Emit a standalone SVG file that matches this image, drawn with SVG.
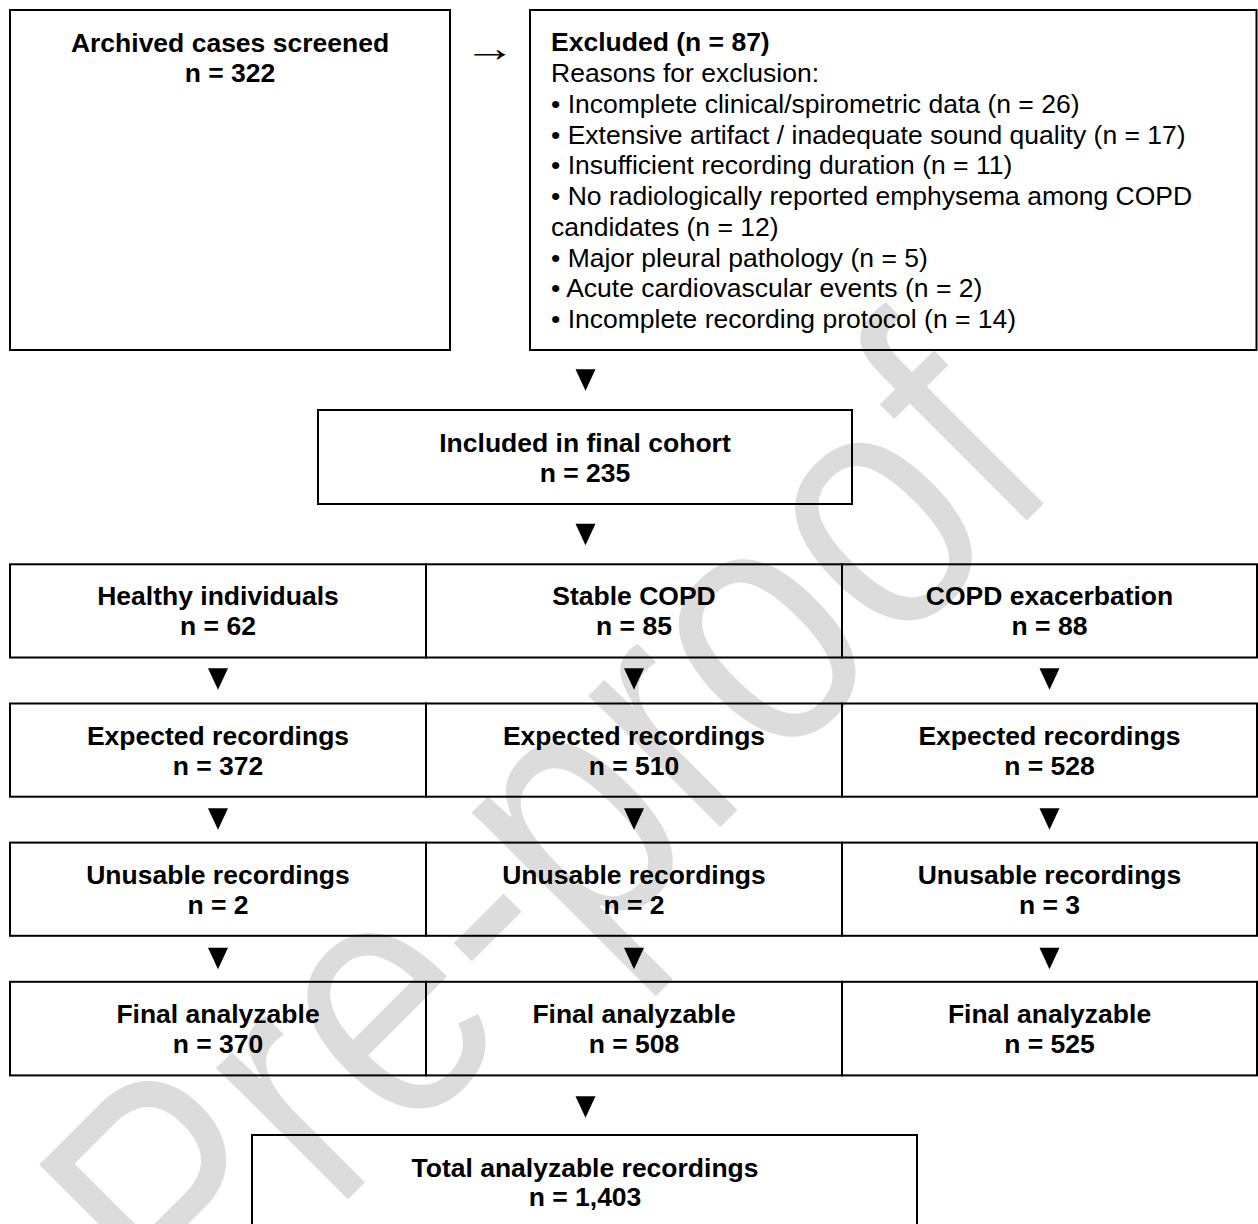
<svg xmlns="http://www.w3.org/2000/svg" width="1258" height="1224" viewBox="0 0 1258 1224">
<style>
.box{fill:none;stroke:#000;stroke-width:2}
.b{font-family:"Liberation Sans",Arial,sans-serif;font-weight:bold;font-size:26.5px;fill:#000;text-anchor:middle}
.r{font-family:"Liberation Sans",Arial,sans-serif;font-size:26.5px;fill:#000}
.rb{font-family:"Liberation Sans",Arial,sans-serif;font-size:26.5px;font-weight:bold;fill:#000}
.tri{fill:#000}
.wm{font-family:"Liberation Sans",Arial,sans-serif;font-size:310px;fill:#dcdcdc;stroke:#fff;stroke-width:2;stroke-linejoin:round}
</style>
<rect width="1258" height="1224" fill="#fff"/>
<g id="watermark">
<text class="wm" transform="translate(194,1355) rotate(-45) scale(0.955,1.15)">Pre-proof</text>
</g>
<g id="connectors">
<text x="463.5" y="60.6" font-family="'Liberation Serif','DejaVu Serif',serif" font-size="38" textLength="52" lengthAdjust="spacingAndGlyphs">→</text>
<polygon class="tri" points="575.5,369.25 595.5,369.25 585.5,390.75"/>
<polygon class="tri" points="575.5,523.75 595.5,523.75 585.5,545.25"/>
<polygon class="tri" points="208,668.25 228,668.25 218,689.75"/>
<polygon class="tri" points="624,668.25 644,668.25 634,689.75"/>
<polygon class="tri" points="1039.5,668.25 1059.5,668.25 1049.5,689.75"/>
<polygon class="tri" points="208,808.25 228,808.25 218,829.75"/>
<polygon class="tri" points="624,808.25 644,808.25 634,829.75"/>
<polygon class="tri" points="1039.5,808.25 1059.5,808.25 1049.5,829.75"/>
<polygon class="tri" points="208,947.75 228,947.75 218,969.25"/>
<polygon class="tri" points="624,947.75 644,947.75 634,969.25"/>
<polygon class="tri" points="1039.5,947.75 1059.5,947.75 1049.5,969.25"/>
<polygon class="tri" points="575.5,1096.25 595.5,1096.25 585.5,1117.75"/>
</g>
<g id="screened">
<rect class="box" x="10" y="10" width="440" height="340"/>
<text class="b" x="230" y="51.5">Archived cases screened</text>
<text class="b" x="230" y="82">n = 322</text>
</g>
<g id="excluded">
<rect class="box" x="530" y="10" width="726.5" height="340"/>
<text class="rb" x="551" y="51.3">Excluded (n = 87)</text>
<text class="r" x="551" y="82">Reasons for exclusion:</text>
<text class="r" x="551" y="112.8">• Incomplete clinical/spirometric data (n = 26)</text>
<text class="r" x="551" y="143.5">• Extensive artifact / inadequate sound quality (n = 17)</text>
<text class="r" x="551" y="174.3">• Insufficient recording duration (n = 11)</text>
<text class="r" x="551" y="205">• No radiologically reported emphysema among COPD</text>
<text class="r" x="551" y="235.8">candidates (n = 12)</text>
<text class="r" x="551" y="266.5">• Major pleural pathology (n = 5)</text>
<text class="r" x="551" y="297.3">• Acute cardiovascular events (n = 2)</text>
<text class="r" x="551" y="328">• Incomplete recording protocol (n = 14)</text>
</g>
<g id="included">
<rect class="box" x="318" y="410" width="534" height="94"/>
<text class="b" x="585" y="451.5">Included in final cohort</text>
<text class="b" x="585" y="481.5">n = 235</text>
</g>
<g id="healthy">
<rect class="box" x="10" y="564.3" width="416" height="93.2"/>
<text class="b" x="218" y="605.3">Healthy individuals</text>
<text class="b" x="218" y="635.3">n = 62</text>
</g>
<g id="stable">
<rect class="box" x="426" y="564.3" width="416" height="93.2"/>
<text class="b" x="634" y="605.3">Stable COPD</text>
<text class="b" x="634" y="635.3">n = 85</text>
</g>
<g id="exacerbation">
<rect class="box" x="842" y="564.3" width="415" height="93.2"/>
<text class="b" x="1049.5" y="605.3">COPD exacerbation</text>
<text class="b" x="1049.5" y="635.3">n = 88</text>
</g>
<g id="expected-healthy">
<rect class="box" x="10" y="703.5" width="416" height="93.2"/>
<text class="b" x="218" y="744.5">Expected recordings</text>
<text class="b" x="218" y="774.5">n = 372</text>
</g>
<g id="expected-stable">
<rect class="box" x="426" y="703.5" width="416" height="93.2"/>
<text class="b" x="634" y="744.5">Expected recordings</text>
<text class="b" x="634" y="774.5">n = 510</text>
</g>
<g id="expected-exacerbation">
<rect class="box" x="842" y="703.5" width="415" height="93.2"/>
<text class="b" x="1049.5" y="744.5">Expected recordings</text>
<text class="b" x="1049.5" y="774.5">n = 528</text>
</g>
<g id="unusable-healthy">
<rect class="box" x="10" y="842.6" width="416" height="93.2"/>
<text class="b" x="218" y="883.5">Unusable recordings</text>
<text class="b" x="218" y="913.5">n = 2</text>
</g>
<g id="unusable-stable">
<rect class="box" x="426" y="842.6" width="416" height="93.2"/>
<text class="b" x="634" y="883.5">Unusable recordings</text>
<text class="b" x="634" y="913.5">n = 2</text>
</g>
<g id="unusable-exacerbation">
<rect class="box" x="842" y="842.6" width="415" height="93.2"/>
<text class="b" x="1049.5" y="883.5">Unusable recordings</text>
<text class="b" x="1049.5" y="913.5">n = 3</text>
</g>
<g id="final-healthy">
<rect class="box" x="10" y="981.8" width="416" height="93.6"/>
<text class="b" x="218" y="1022.8">Final analyzable</text>
<text class="b" x="218" y="1052.6">n = 370</text>
</g>
<g id="final-stable">
<rect class="box" x="426" y="981.8" width="416" height="93.6"/>
<text class="b" x="634" y="1022.8">Final analyzable</text>
<text class="b" x="634" y="1052.6">n = 508</text>
</g>
<g id="final-exacerbation">
<rect class="box" x="842" y="981.8" width="415" height="93.6"/>
<text class="b" x="1049.5" y="1022.8">Final analyzable</text>
<text class="b" x="1049.5" y="1052.6">n = 525</text>
</g>
<g id="total">
<rect class="box" x="252" y="1135" width="665" height="95"/>
<text class="b" x="585" y="1176.5">Total analyzable recordings</text>
<text class="b" x="585" y="1206">n = 1,403</text>
</g>
</svg>
